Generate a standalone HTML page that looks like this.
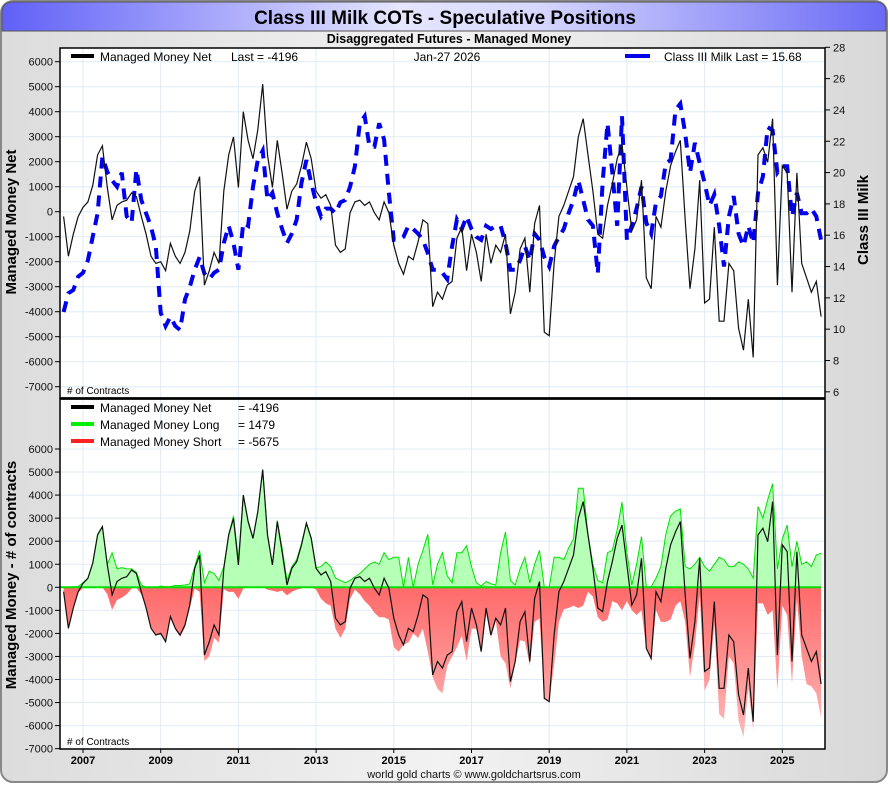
<!DOCTYPE html>
<html><head><meta charset="utf-8">
<style>
html,body{margin:0;padding:0;background:#fff;}
body{width:890px;height:785px;overflow:hidden;font-family:"Liberation Sans",sans-serif;}
</style></head>
<body>
<svg id="chart" width="890" height="785" xmlns="http://www.w3.org/2000/svg" font-family="Liberation Sans, sans-serif">
<defs>
<linearGradient id="bg" x1="0" x2="1" y1="0" y2="0"><stop offset="0" stop-color="#dcdcdc"/><stop offset="0.5" stop-color="#f2f2f2"/><stop offset="1" stop-color="#d8d8d8"/></linearGradient>
<linearGradient id="tb" x1="0" x2="1" y1="0" y2="0"><stop offset="0" stop-color="#6060f8"/><stop offset="0.45" stop-color="#e6e6ff"/><stop offset="0.6" stop-color="#d8d8ff"/><stop offset="1" stop-color="#6a6af5"/></linearGradient>
<linearGradient id="rg" x1="0" x2="0" y1="0" y2="1"><stop offset="0" stop-color="#ff6a6a"/><stop offset="1" stop-color="#ffb8b8"/></linearGradient>
</defs>
<rect x="1" y="1" width="886" height="781" rx="12" fill="url(#bg)" stroke="#888" stroke-width="2"/>
<path d="M2,31 L2,13 Q2,2 13,2 L876,2 Q886,2 886,13 L886,31 Z" fill="url(#tb)" stroke="#555" stroke-width="1"/>
<text x="445" y="24" font-size="19" font-weight="bold" text-anchor="middle">Class III Milk COTs - Speculative Positions</text>
<text x="449" y="43" font-size="12.5" font-weight="bold" text-anchor="middle">Disaggregated Futures - Managed Money</text>
<g id="topPanel"></g>
<g id="botPanel"></g>
<text x="474" y="778" font-size="11" text-anchor="middle" fill="#111">world gold charts © www.goldchartsrus.com</text>
</svg>
<script>
// ---- data (8 points per year starting 2006.5) ----
const startYear = 2006.5;
const netValues = [
-190,-1780,-900,-200,
170,390,1040,2270,2630,970,-330,250,
390,460,750,600,-190,-900,-1780,-2070,
-2000,-2360,-1270,-1780,-2070,-1630,-770,820,
1400,-2940,-2360,-1630,-2070,820,2270,2990,
970,4000,2850,2120,3280,5100,2270,970,
2850,1550,100,820,1110,1840,2780,2120,
820,540,680,250,-1340,-1630,-1490,-40,
390,460,250,390,-40,-330,390,-40,
-1340,-2070,-2500,-1780,-1920,-1200,-330,-480,
-3800,-3220,-3500,-2940,-2790,-1060,-620,-2360,
-900,-1630,-2790,-900,-2070,-1340,-1630,-900,
-4090,-3220,-1490,-1060,-3220,-480,250,-4820,
-4960,-2070,-190,250,820,1400,2990,3720,
2270,820,-900,-1060,250,1110,2120,2700,
970,-770,-330,1260,-2650,-3080,-190,-620,
820,1840,2400,2850,-330,-3080,-1490,1260,
-3650,-3500,-620,-4380,-4380,-2070,-2360,-4670,
-5540,-3500,-5830,2270,2560,1980,3720,-2940,
1840,1550,-3220,1550,-2070,-2650,-3220,-2790,
-4196];
const longValues = [
0,10,20,30,
200,400,1040,2300,2650,1000,1500,800,
850,800,800,650,100,0,0,0,
50,20,30,80,80,100,150,900,
1600,200,700,600,300,900,2300,3100,
1200,4000,2900,2150,3300,5100,2300,1000,
2900,1700,300,900,1200,1900,2800,2150,
850,900,1100,900,400,300,200,300,
450,600,800,1000,1100,1000,1500,1200,
1300,1300,0,1300,0,1000,1600,2300,
100,1000,1500,500,200,1500,1500,1800,
900,200,50,250,150,100,1500,2400,
300,100,800,1300,200,1000,1600,0,
0,1300,1300,1200,1700,2100,4300,4300,
2300,1000,300,200,1500,1600,2500,3700,
1500,100,1000,2200,20,30,400,900,
2300,3100,3300,3400,900,800,1000,1300,
900,700,1000,1300,1200,900,900,1100,
1000,800,400,3500,3000,3800,4500,800,
2100,2700,900,2000,1000,1100,900,1400,
1479];
const shortValues = [
-200,-1850,-950,-230,
-30,0,0,-30,0,-300,-980,-550,
-450,-300,-50,-30,-300,-900,-1780,-2070,
-2050,-2380,-1300,-1850,-2150,-1730,-900,-50,
-200,-3200,-3000,-2200,-2400,-80,-200,-200,
-500,-50,0,0,0,0,-100,-150,
-200,-150,-350,-200,-100,-50,0,0,
-100,-500,-700,-800,-1800,-2200,-1800,-500,
-100,-300,-600,-800,-1100,-1300,-1300,-1400,
-2600,-2800,-2500,-2400,-2000,-2200,-1800,-2800,
-3900,-4400,-4600,-3400,-3000,-2600,-2100,-3200,
-1800,-1800,-2850,-1150,-2200,-1450,-3000,-3300,
-4400,-3300,-2300,-2350,-3400,-1500,-1350,-4850,
-5000,-3400,-1500,-950,-900,-800,-900,-800,
-200,-400,-1300,-1500,-1400,-600,-700,-1000,
-600,-1000,-1200,-1000,-2700,-3200,-1000,-1500,
-1500,-1400,-800,-600,-1500,-3900,-2500,-300,
-4500,-4000,-1600,-5500,-5700,-3000,-3300,-5800,
-6500,-4400,-6200,-700,-700,-1200,-1000,-4500,
-800,-1200,-4200,-500,-3000,-4200,-4300,-4600,
-5675];
const milkValues = [
11.1,12.3,12.5,13.35,
13.6,14.4,15.9,17.4,21.0,20.05,19.5,19.1,
20,17.2,16.8,20.2,18.25,17.4,16.55,15.3,
11.05,10.2,10.8,10.2,9.95,11.9,12.7,13.8,
14.6,13.55,13.2,13.6,13.8,15.5,16.6,15.5,
13.8,16.8,16.6,19.1,20.8,21.4,18.25,18.7,
17.4,16.4,15.5,16.1,17.0,19.35,20.8,19.35,
18.1,17.2,17.7,17.7,17.4,18.1,18.25,19.1,
20.4,23.15,23.6,21.65,21.65,23.15,22.1,18.7,
15.7,15.7,15.9,16.6,16.4,16.1,15.7,14.85,
13.8,13.8,13.6,13.2,15.3,17.0,16.4,17.2,
16.4,15.9,15.7,16.6,16.4,16.6,16.6,15.5,
13.8,13.8,14.4,15.3,14.4,16.1,15.7,14.6,
14.0,15.3,15.9,16.4,17.4,18.25,19.5,18.25,
17.0,16.6,13.55,19.35,23.15,20.0,16.6,23.6,
15.7,16.6,17.7,19.1,16.8,16.1,18.1,18.5,
20.6,20.8,24.0,24.4,22.5,20.0,21.9,20.6,
19.35,17.9,18.6,16.6,14.0,17.2,18.5,16.1,
15.3,16.6,15.5,18.7,19.75,22.9,22.7,20.0,
20.4,20.4,17.2,18.7,17.4,17.4,17.7,17.2,
15.68];
const yearLabels = ["2007","2009","2011","2013","2015","2017","2019","2021","2023","2025"];
const leftTicks = [6000,5000,4000,3000,2000,1000,0,-1000,-2000,-3000,-4000,-5000,-6000,-7000];
const milkTicks = [28,26,24,22,20,18,16,14,12,10,8,6];

const NS="http://www.w3.org/2000/svg";
const PL=60, PR=825;
function xOf(year){return 83+(year-2007)*38.85;}
function dateOf(i){return startYear+i/8;}
function yTop(v){return 211.7-v*0.025;}
function yMilk(v){return 47.3+(28-v)*15.66;}
function yBot(v){return 587.3-v*0.02305;}
function el(tag,attrs,parent){const e=document.createElementNS(NS,tag);for(const k in attrs)e.setAttribute(k,attrs[k]);parent.appendChild(e);return e;}
function txt(s,attrs,parent){const e=el('text',attrs,parent);e.textContent=s;return e;}
const topG=document.getElementById('topPanel'), botG=document.getElementById('botPanel');

function panel(g,y0,y1,ticks,yf,name){
  const r=el('rect',{x:PL,y:y0,width:PR-PL,height:y1-y0,fill:'#fff'},g);
  
  
  ticks.forEach(t=>{
    const y=yf(t);
    const l=el('line',{x1:PL,x2:PR,y1:y,y2:y,stroke:'#e0ebf5','stroke-width':1},g);
    
    
    el('line',{x1:PL-5,x2:PL,y1:y,y2:y,stroke:'#000'},g);
    const tl=txt(String(t),{x:PL-7,y:y+4,'font-size':11,'text-anchor':'end',fill:'#111'},g);
    
    
  });
  yearLabels.forEach(s=>{
    const x=xOf(+s);
    const l=el('line',{x1:x,x2:x,y1:y0,y2:y1,stroke:'#e0ebf5','stroke-width':1},g);
    
    
  });
}
// top panel
panel(topG,48,398,leftTicks,yTop,'top');
milkTicks.forEach(t=>{
  const y=yMilk(t);
  el('line',{x1:PR,x2:PR+5,y1:y,y2:y,stroke:'#000'},topG);
  const tl=txt(String(t),{x:PR+8,y:y+4,'font-size':11,fill:'#111'},topG);
  
  
});
let mp=milkValues.map((v,i)=>xOf(dateOf(i)).toFixed(1)+','+yMilk(v).toFixed(1)).join(' ');
const milk=el('polyline',{points:mp,fill:'none',stroke:'#0000ee','stroke-width':4,'stroke-dasharray':'11 8'},topG);


let np=netValues.map((v,i)=>xOf(dateOf(i)).toFixed(1)+','+yTop(v).toFixed(1)).join(' ');
const netTop=el('polyline',{points:np,fill:'none',stroke:'#111','stroke-width':1.2},topG);


el('rect',{x:PL,y:48,width:PR-PL,height:350,fill:'none',stroke:'#000','stroke-width':1.5},topG);
el('rect',{x:71,y:54,width:23,height:4,fill:'#000'},topG);
let t1=txt('Managed Money Net',{x:100,y:61,'font-size':12},topG);

let t1b=txt('Last = -4196',{x:231,y:61,'font-size':12},topG);

let t2=txt('Jan-27  2026',{x:447,y:61,'font-size':12,'text-anchor':'middle'},topG);

el('rect',{x:625,y:54,width:25,height:4,fill:'#0000ee'},topG);
let t3=txt('Class III Milk Last = 15.68',{x:664,y:61,'font-size':12},topG);

let t4=txt('# of Contracts',{x:67,y:394,'font-size':10},topG);

let ya=txt('Managed Money Net',{x:0,y:0,'font-size':15,'font-weight':'bold','text-anchor':'middle',transform:'translate(16,222) rotate(-90)'},topG);

let yb=txt('Class III Milk',{x:0,y:0,'font-size':15,'font-weight':'bold','text-anchor':'middle',transform:'translate(868,220) rotate(-90)'},topG);


// bottom panel
panel(botG,399,749,leftTicks.slice(0),yBot,'bottom');
function area(vals,fill,name){
  const x0=xOf(dateOf(0)), x1=xOf(dateOf(vals.length-1));
  let d='M'+x0.toFixed(1)+','+yBot(0).toFixed(1);
  vals.forEach((v,i)=>{d+=' L'+xOf(dateOf(i)).toFixed(1)+','+yBot(v).toFixed(1);});
  d+=' L'+x1.toFixed(1)+','+yBot(0).toFixed(1)+' Z';
  const p=el('path',{d:d,fill:fill},botG);
  
  
}
area(longValues,'#b6ffb6','long-area');
area(shortValues,'url(#rg)','short-area');
let lp=longValues.map((v,i)=>xOf(dateOf(i)).toFixed(1)+','+yBot(v).toFixed(1)).join(' ');
const longLine=el('polyline',{points:lp,fill:'none',stroke:'#00e000','stroke-width':1},botG);


const zl=el('line',{x1:PL,x2:xOf(dateOf(netValues.length-1)),y1:yBot(0),y2:yBot(0),stroke:'#00e000','stroke-width':2},botG);


let bp=netValues.map((v,i)=>xOf(dateOf(i)).toFixed(1)+','+yBot(v).toFixed(1)).join(' ');
const netBot=el('polyline',{points:bp,fill:'none',stroke:'#111','stroke-width':1.2},botG);


el('rect',{x:PL,y:399,width:PR-PL,height:350,fill:'none',stroke:'#000','stroke-width':1.5},botG);
el('line',{x1:PL,x2:PR,y1:398.5,y2:398.5,stroke:'#000','stroke-width':2.5},botG);
yearLabels.forEach(s=>{
  const x=xOf(+s);
  el('line',{x1:x,x2:x,y1:749,y2:753,stroke:'#000'},botG);
  const tl=txt(s,{x:x,y:764,'font-size':11,'font-weight':'bold','text-anchor':'middle'},botG);
  
  
});
const leg=[['#000','Managed Money Net','= -4196',412],['#00ee00','Managed Money Long','= 1479',429],['#ff2222','Managed Money Short','= -5675',446]];
leg.forEach(r=>{
  el('rect',{x:71,y:r[3]-7,width:23,height:4,fill:r[0]},botG);
  const a=txt(r[1],{x:100,y:r[3],'font-size':12},botG);
  
  
  const b=txt(r[2],{x:238,y:r[3],'font-size':12},botG);
  
  
});
let t5=txt('# of Contracts',{x:67,y:745,'font-size':10},botG);

let yc=txt('Managed Money - # of contracts',{x:0,y:0,'font-size':15,'font-weight':'bold','text-anchor':'middle',transform:'translate(16,575) rotate(-90)'},botG);

</script>
</body></html>
